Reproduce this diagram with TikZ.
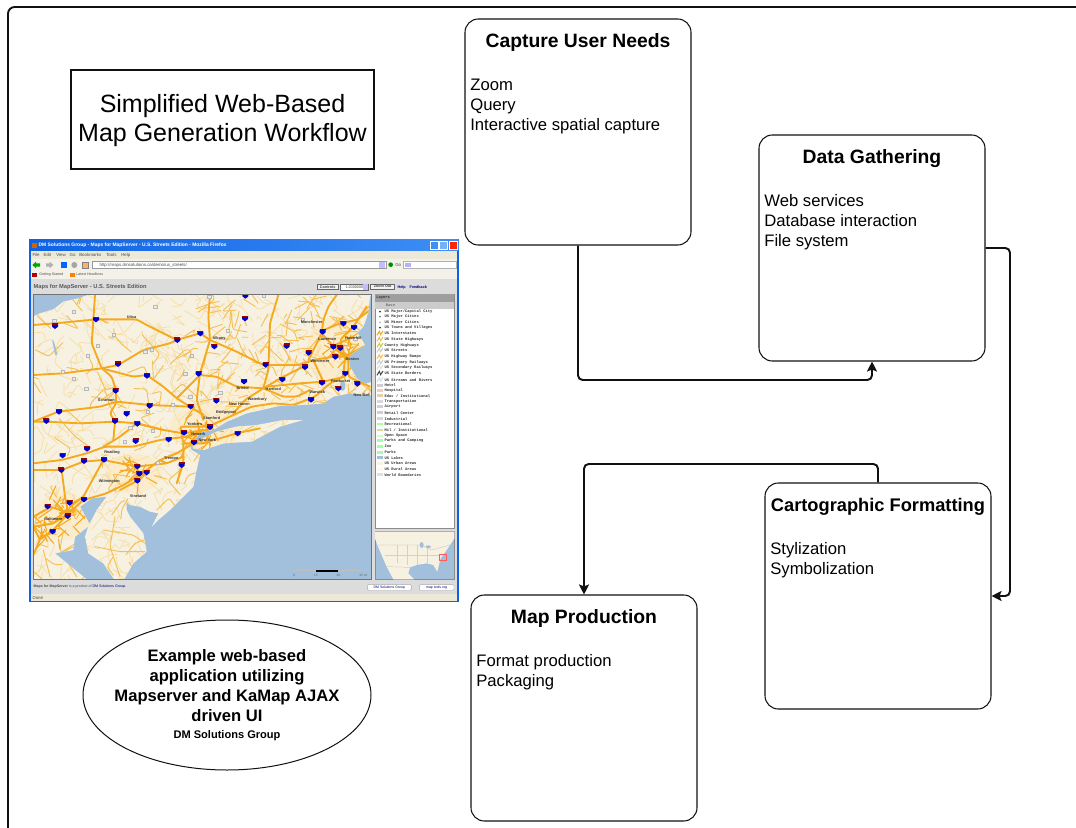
\documentclass[tikz,border=0pt]{standalone}
\usepackage{fontspec}
\setmainfont{Liberation Sans}
\newfontfamily\legfont{Liberation Mono}
\usetikzlibrary{shapes.geometric,arrows.meta}
\definecolor{linkdark}{HTML}{111111}
\definecolor{water}{HTML}{A2C0DC}
\definecolor{land}{HTML}{F7F1E2}
\definecolor{roadA}{HTML}{F5A91E}
\definecolor{roadB}{HTML}{F5C056}
\definecolor{roadC}{HTML}{F6DDA2}
\definecolor{xpbar}{HTML}{0F62E3}
\definecolor{xpbarb}{HTML}{3E8EF5}
\definecolor{xpface}{HTML}{ECE9D8}
\definecolor{pagegray}{HTML}{DCDCDC}
\newcommand{\flowtext}[3][14.5pt]{\parbox[c][169.5pt][t]{169.5pt}{\rule{0pt}{21pt}\centering\fontsize{#1}{16pt}\selectfont\bfseries #2\par\vspace{17.25pt}\raggedright\leftskip=4pt\fontsize{12.5pt}{15pt}\selectfont\mdseries #3\par}}
\tikzset{
  x=0.75pt,y=-0.75pt,
  flowbox/.style={draw=linkdark,line width=0.8pt,rounded corners=10pt,fill=white,inner sep=0pt,minimum width=169.5pt,minimum height=169.5pt},
  conn/.style={draw=linkdark,line width=1.45pt,rounded corners=3.5pt,-{Stealth[length=7.5pt,width=7.5pt,inset=1.5pt]}},
  tinylab/.style={inner sep=0pt,font=\fontsize{2.9pt}{3pt}\selectfont\bfseries,text=black!80},
  chrome/.style={inner sep=0pt,font=\fontsize{3.3pt}{3.6pt}\selectfont,text=black!70},
  leg/.style={inner sep=0pt,anchor=west,font=\fontsize{2.85pt}{3pt}\selectfont\legfont\bfseries,text=black!80},
  btn/.style={draw=black!60,line width=.35pt,fill=black!5,inner sep=0pt,font=\fontsize{2.8pt}{3pt}\selectfont\bfseries,text=black!75},
  rdA/.style={draw=roadA,line width=1.4pt,line join=round,line cap=round,rounded corners=2pt},
  rdB/.style={draw=roadB,line width=.7pt,line join=round,line cap=round,rounded corners=2pt},
  rdC/.style={draw=roadC,line width=.5pt,line join=round,line cap=round,rounded corners=1.5pt},
}
\begin{document}
\begin{tikzpicture}
\useasboundingbox (0,0) rectangle (1076,828);
\fill[white] (0,0) rectangle (1076,828);
% outer frame
\coordinate (frameA) at (8,829);
\coordinate (frameB) at (1077,7);
\draw[draw=linkdark,line width=1.4pt,rounded corners=5pt] (frameA) -- (8,7) -- (frameB);
% title
\node[draw=linkdark,line width=.9pt,fill=white,minimum width=227.25pt,minimum height=74.25pt,inner sep=0pt,align=center,font=\fontsize{18.75pt}{22pt}\selectfont] (title) at (222.5,119.5) {\rule{0pt}{15pt}Simplified Web-Based\\Map Generation Workflow};

% ============ screenshot, in units of a third of a pixel
\begin{scope}[shift={(20,230)},x=0.25pt,y=-0.25pt]
\fill[xpbar] (28,28) rectangle (1316,1117);
\shade[left color=xpbar,right color=xpbarb] (28,28) rectangle (1316,62);
\fill[pagegray] (32,62) rectangle (1312,1114);
\node[inner sep=0pt,anchor=west,text=white,font=\fontsize{3.7pt}{3.9pt}\selectfont\bfseries] (wintitle) at (55,47) {DM Solutions Group - Maps for MapServer - U.S. Streets Edition - Mozilla Firefox};
\fill[orange!80!black] (35,38) rectangle (50,54);
\fill[xpbarb,draw=white,line width=.3pt] (1232,35) rectangle (1255,58);
\fill[xpbarb!70,draw=white,line width=.3pt] (1259,35) rectangle (1282,58);
\fill[red!70!orange,draw=white,line width=.3pt] (1288,35) rectangle (1312,58);
\fill[xpface] (32,62) rectangle (1312,88);
\fill[xpface!60!white] (32,88) rectangle (1312,120);
\fill[xpface!60!white] (32,120) rectangle (1312,146);
\foreach \px/\lab [count=\i] in {37/File,70/Edit,108/View,148/Go,177/Bookmarks,258/Tools,303/Help}
  \node[chrome,anchor=west] (menu\i) at (\px,75) {\lab};
\fill[green!65!black] (37,105) -- (48,95) -- (48,100) -- (60,100) -- (60,110) -- (48,110) -- (48,115) -- cycle;
\fill[black!30] (100,105) -- (89,95) -- (89,100) -- (78,100) -- (78,110) -- (89,110) -- (89,115) -- cycle;
\fill[blue!60!cyan] (122,96) rectangle (140,114);
\fill[black!35] (163,105) circle (9);
\fill[orange!60!white,draw=black!50,line width=.2pt] (186,96) rectangle (205,114);
\fill[white,draw=black!40,line width=.25pt] (215,94) rectangle (1098,115);
\node[chrome,anchor=west] (url) at (238,105) {http://maps.dmsolutions.ca/demo/us\_streets/};
\fill[blue!25] (1078,96) rectangle (1096,113);
\fill[green!55!black] (1112,104) circle (7);
\node[chrome,anchor=west] (go) at (1125,105) {Go};
\fill[white,draw=black!30,line width=.25pt] (1150,94) rectangle (1308,115);
\fill[blue!30] (1155,98) rectangle (1172,112);
\fill[red!70!black] (37,128) rectangle (50,140);
\node[chrome,anchor=west,font=\fontsize{2.7pt}{3pt}\selectfont] (bm1) at (57,134) {Getting Started};
\fill[orange] (151,128) rectangle (164,140);
\node[chrome,anchor=west,font=\fontsize{2.7pt}{3pt}\selectfont] (bm2) at (168,134) {Latest Headlines};
\node[inner sep=0pt,anchor=west,text=black!65,font=\fontsize{4.3pt}{4.6pt}\selectfont\bfseries] (pagetitle) at (40,171) {Maps for MapServer - U.S. Streets Edition};
\node[btn,minimum width=15.5pt,minimum height=4.4pt] (bc) at (923,170) {Controls};
\node[btn,fill=white,minimum width=21pt,minimum height=4.4pt,anchor=center,font=\fontsize{2.8pt}{3pt}\selectfont] (bs) at (1003,171) {1:2000000\hspace{5pt}};
\fill[blue!25] (1030,163) rectangle (1044,179);
\node[btn,minimum width=18pt,minimum height=4.4pt] (bz) at (1088,170) {Zoom Out};
\node[chrome,text=blue!50!black,font=\fontsize{2.8pt}{3pt}\selectfont\bfseries] (help) at (1145,172) {Help};
\node[chrome,text=blue!50!black,font=\fontsize{2.8pt}{3pt}\selectfont\bfseries] (fb) at (1195,172) {Feedback};

% ---- map
\fill[water,draw=black!55,line width=.4pt] (40,193) rectangle (1053,1049);
\begin{scope}
\clip (40,193) rectangle (1053,1049);
\def\landA{(33,262) -- (60,250) -- (100,238) -- (130,215) -- (175,205) -- (212,192) -- (1056,192) -- (1050,200) -- (1045,250) -- (1030,290) -- (1012,308) -- (1035,345) -- (1005,365) -- (985,378) -- (990,410) -- (1010,445) -- (1035,462) -- (1056,455) -- (1056,497) -- (990,490) -- (940,500) -- (910,520) -- (840,525) -- (780,527) -- (680,550) -- (620,575) -- (580,600) -- (545,605) -- (525,625) -- (510,650) -- (515,660) -- (540,675) -- (530,720) -- (520,770) -- (480,810) -- (450,840) -- (415,870) -- (395,890) -- (415,850) -- (390,845) -- (360,830) -- (330,825) -- (320,815) -- (320,840) -- (330,860) -- (370,910) -- (380,965) -- (340,1000) -- (310,1052) -- (285,1052) -- (250,1000) -- (205,970) -- (195,920) -- (205,890) -- (230,840) -- (260,800) -- (215,805) -- (180,830) -- (210,885) -- (165,920) -- (160,960) -- (105,970) -- (205,1052) -- (33,1052) -- cycle}
\def\landB{(515,640) -- (560,620) -- (590,605) -- (650,590) -- (710,585) -- (790,570) -- (850,570) -- (780,590) -- (695,635) -- (610,640) -- (550,660) -- (520,655) -- cycle}
\fill[land] \landA;
\fill[land] \landB;
\begin{scope}
\clip \landA \landB;
% settled areas
\fill[roadC!55] (560,590) ellipse (110 and 70);
\fill[roadC!55] (950,360) ellipse (90 and 100);
\fill[roadC!55] (340,730) ellipse (85 and 60);
\fill[roadC!55] (130,860) ellipse (90 and 70);
\fill[roadC!45] (760,500) ellipse (150 and 50);
% minor roads
\pgfmathsetseed{73}
\foreach \n in {1,...,620}{
  \pgfmathsetmacro\xa{40+1010*rnd}
  \pgfmathsetmacro\ya{195+850*rnd}
  \pgfmathsetmacro\dxa{-45+90*rnd}
  \pgfmathsetmacro\dya{-45+90*rnd}
  \pgfmathsetmacro\dxb{-40+80*rnd}
  \pgfmathsetmacro\dyb{-40+80*rnd}
  \draw[rdC] (\xa,\ya) -- ++(\dxa,\dya) -- ++(\dxb,\dyb);
}
\foreach \n in {1,...,130}{
  \pgfmathsetmacro\xa{40+1010*rnd}
  \pgfmathsetmacro\ya{195+850*rnd}
  \pgfmathsetmacro\dxa{-60+120*rnd}
  \pgfmathsetmacro\dya{-60+120*rnd}
  \pgfmathsetmacro\dxb{-50+100*rnd}
  \pgfmathsetmacro\dyb{-50+100*rnd}
  \draw[rdB] (\xa,\ya) -- ++(\dxa,\dya) -- ++(\dxb,\dyb);
}
\foreach \n in {1,...,110}{
  \pgfmathsetmacro\xa{560+490*rnd}
  \pgfmathsetmacro\ya{200+330*rnd}
  \pgfmathsetmacro\dxa{-50+100*rnd}
  \pgfmathsetmacro\dya{-50+100*rnd}
  \draw[rdB] (\xa,\ya) -- ++(\dxa,\dya);
}
% dense urban road clusters
\foreach \cx/\cy/\cr in {535/615/48,960/360/38,130/850/42,350/730/34,90/900/30}{
  \foreach \n in {1,...,22}{
    \pgfmathsetmacro\xa{\cx+\cr*(2*rnd-1)}
    \pgfmathsetmacro\ya{\cy+\cr*(2*rnd-1)}
    \pgfmathsetmacro\dxa{\cr*(2*rnd-1)}
    \pgfmathsetmacro\dya{\cr*(2*rnd-1)}
    \draw[draw=roadA,line width=.8pt,line cap=round] (\xa,\ya) -- ++(\dxa,\dya);
  }
}
% Delmarva and south
\draw[rdB] (285,860) -- (270,950) -- (300,1040);
\draw[rdB] (250,900) -- (340,915) -- (375,940);
\draw[rdB] (225,950) -- (300,965) -- (375,965);
\draw[rdB] (70,960) -- (90,1040);
\draw[rdB] (130,900) -- (120,960) -- (170,1040);
% main roads
\draw[rdA] (40,285) -- (105,280) -- (230,268) -- (350,268) -- (380,285) -- (470,330) -- (540,310) -- (570,330) -- (650,365) -- (730,405) -- (840,405) -- (880,390) -- (940,380) -- (980,380);
\draw[rdA] (225,195) -- (220,270) -- (215,340) -- (245,415) -- (275,440) -- (288,480) -- (288,520) -- (270,550) -- (285,575) -- (280,630);
\draw[rdA] (40,435) -- (130,430) -- (245,415) -- (295,405) -- (370,360) -- (450,340) -- (470,330);
\draw[rdA] (245,415) -- (340,440) -- (380,435) -- (430,470) -- (470,505) -- (510,530) -- (550,555);
\draw[rdA] (40,575) -- (115,545) -- (240,530) -- (290,515) -- (390,525) -- (510,530);
\draw[rdA] (40,575) -- (80,575) -- (180,580) -- (285,575) -- (350,580) -- (430,600) -- (490,610) -- (550,600);
\draw[rdA] (570,195) -- (565,260) -- (570,330) -- (540,430) -- (530,510) -- (550,570);
\draw[rdA] (775,195) -- (750,280) -- (745,420) -- (730,475) -- (675,510) -- (640,550);
\draw[rdA] (565,590) -- (640,555) -- (695,530) -- (760,520) -- (820,525) -- (885,500) -- (930,460) -- (970,440) -- (975,380);
\draw[rdA] (730,475) -- (790,500) -- (830,500) -- (870,480);
\draw[rdA] (730,475) -- (790,440) -- (850,410);
\draw[rdA] (540,435) -- (590,440) -- (650,470) -- (730,475);
\draw[rdA] (540,435) -- (470,505);
\draw[rdA] (865,390) -- (905,310) -- (910,270) -- (925,230) -- (950,195);
\draw[rdA] (975,380) -- (960,330) -- (1000,290) -- (1040,230);
\draw[rdA] (900,305) -- (960,280) -- (1010,270) -- (1050,240);
\draw[rdA] (975,380) -- (1040,345);
\draw[rdA] (935,350) -- (1000,320);
\draw[rdA] (905,310) -- (950,360) -- (975,380);
\draw[rdA] (985,380) -- (985,440) -- (1050,470);
\draw[rdA] (975,440) -- (910,455) -- (840,460) -- (740,470);
\draw[rdA] (880,390) -- (910,455);
\draw[rdA] (545,640) -- (600,625) -- (650,610) -- (720,595);
\draw[rdA] (520,640) -- (470,670) -- (420,690) -- (380,720) -- (320,760) -- (260,790) -- (190,810) -- (145,850) -- (100,880) -- (40,890);
\draw[rdA] (40,700) -- (125,690) -- (200,670) -- (255,650) -- (340,650) -- (420,630) -- (500,620);
\draw[rdA] (40,720) -- (125,720) -- (190,695) -- (250,690) -- (350,710) -- (440,700) -- (490,680);
\draw[rdA] (250,690) -- (190,800) -- (150,830);
\draw[rdA] (125,720) -- (135,800) -- (145,850);
\draw[rdA] (40,860) -- (95,830) -- (145,850);
\draw[rdA] (352,709) -- (352,752) -- (300,780);
\draw[rdA] (145,850) -- (100,900) -- (60,930) -- (40,890);
\draw[rdA] (250,650) -- (300,620) -- (350,580) -- (430,600);
\draw[rdA] (440,700) -- (420,690);
\draw[rdA] (490,640) -- (490,700) -- (470,760);
\draw[rdA] (40,975) -- (70,905);
\draw[rdA] (480,590) -- (565,590) -- (560,640) -- (490,640) -- cycle;
\draw[rdA] (510,600) -- (545,635);
\draw[rdA] (540,600) -- (510,640);
\draw[rdA,line width=2pt] (500,620) -- (560,600);
\draw[rdA,line width=2pt] (120,850) -- (160,840);
\draw[rdA,line width=1.8pt] (950,360) -- (990,385);
\end{scope}
% route markers
\foreach \mx/\my in {160/245, 102/270, 280/312, 232/345, 395/357, 160/445, 198/476, 405/230, 567/198, 622/302, 515/375, 495/430, 510/498, 457/522, 375/365, 202/377, 128/424, 330/592, 397/601, 313/635, 412/698, 382/545, 600/487, 730/197, 848/267, 1005/325}
  \fill[white!92!black,draw=black!28,line width=.2pt] (\mx-5,\my-4) rectangle (\mx+5,\my+5);
% lakes
\fill[water] (96,330) -- (102,335) -- (112,372) -- (106,376) -- cycle;
\fill[water] (968,468) ellipse (8 and 15);
% interstate shields
\foreach \sx/\sy in {228/268,105/288,472/330,541/310,675/265,676/197,583/349,294/402,381/437,536/431,287/482,389/527,512/529,589/512,672/454,737/404,800/348,866/368,908/305,970/280,1002/292,940/350,961/354,946/380,855/411,787/448,976/430,906/458,955/475,1012/461,873/509,117/545,79/573,320/551,285/573,352/581,492/608,570/591,653/610,446/628,347/633,522/637,201/656,128/676,192/693,252/689,124/720,352/709,380/727,358/731,352/752,485/705,149/818,192/808,83/829,143/858,98/904}{
  \fill[blue!80!black] (\sx-9,\sy-6) -- (\sx+9,\sy-6) -- (\sx+9,\sy+2) -- (\sx,\sy+9) -- (\sx-9,\sy+2) -- cycle;
  \fill[red!60!black] (\sx-9,\sy-8) rectangle (\sx+9,\sy-4);
}
% place names
\foreach \nx/\ny/\lab [count=\i] in {259/511/Scranton,335/261/Utica,597/325/Albany,875/276/Manchester,922/327/Lawrence,1000/325/Haverhill,900/394/Worcester,997/388/Boston,962/452/Pawtucket,892/486/Warwick,760/477/Hartford,668/473/Bristol,712/507/Waterbury,658/524/New Haven,618/547/Bridgeport,575/565/Stamford,524/582/Yonkers,535/612/Newark,562/631/New York,276/669/Reading,268/756/Wilmington,354/797/Vineland,454/686/Trenton,100/868/Baltimore,1025/496/New Bed}
  \node[tinylab] (place\i) at (\nx,\ny) {\lab};
\end{scope}
\draw[black!55,line width=.4pt] (40,193) rectangle (1053,1049);
% scale bar
\fill[black!25] (820,1019) rectangle (1022,1024);
\fill[black] (888,1019) rectangle (955,1025);
\foreach \sbx/\lab [count=\i] in {822/0,888/15,955/30,1030/45 mi}
  \node[tinylab,font=\fontsize{2.4pt}{3pt}\selectfont,text=black!60] (scale\i) at (\sbx,1035) {\lab};

% ---- layers panel
\fill[white,draw=black!45,line width=.4pt] (1065,193) rectangle (1303,895);
\fill[black!38] (1065,193) rectangle (1303,215);
\fill[black!20] (1065,215) rectangle (1303,236);
\node[leg,text=black!80] (laytitle) at (1068,204) {Layers};
\node[leg,text=black!55] (laybase) at (1097,225) {Base};
\foreach \ly/\lab/\lc [count=\i] in {
 245/{US Major/Capital City}/black!80,
 260/US Major Cities/black!50,
 277/US Minor Cities/black!30,
 293/US Towns and Villages/black!80,
 310/US Interstates/roadA,
 328/US State Highways/roadB,
 346/County Highways/roadB!80!green,
 361/US Streets/black!20,
 380/US Highway Ramps/roadB,
 397/US Primary Railways/black!20,
 412/US Secondary Railways/black!12,
 430/US State Borders/black!70,
 449/US Streams and Rivers/water!50,
 466/Hotel/violet!25!black!20,
 481/Hospital/brown!35!white,
 497/{Educ / Institutional}/brown!40!white,
 514/Transportation/black!15,
 530/Airport/black!18,
 548/Retail Center/violet!30!black!20,
 566/Industrial/cyan!20!black!20,
 582/Recreational/green!35!white,
 600/{Mil / Institutional}/olive!30!white,
 618/Open Space/green!20!white,
 632/Parks and Camping/green!35!white,
 650/Zoo/green!35!white,
 667/Parks/green!35!white,
 683/US Lakes/water,
 700/US Urban Areas/orange!12!white,
 718/US Rural Areas/orange!6!white,
 734/World Boundaries/black!12}{
  \node[leg] (layer\i) at (1093,\ly) {\lab};
  \ifnum\i<5
    \fill[\lc] (1080,\ly) circle (3);
  \else\ifnum\i<14
    \draw[\lc,line width=.8pt] (1071,\ly+6) -- (1078,\ly-6) -- (1082,\ly+4) -- (1089,\ly-7);
  \else
    \fill[\lc] (1071,\ly-4) rectangle (1089,\ly+4);
  \fi\fi
}
% ---- overview
\fill[water,draw=black!45,line width=.4pt] (1065,905) rectangle (1303,1048);
\begin{scope}
\clip (1065,905) rectangle (1303,1048);
\fill[land] (1065,905) -- (1303,905) -- (1303,925) -- (1290,945) -- (1280,960) -- (1262,985) -- (1258,1000) -- (1252,1025) -- (1240,1005) -- (1220,1000) -- (1190,1005) -- (1170,1012) -- (1165,1030) -- (1182,1048) -- (1120,1048) -- (1100,1010) -- (1085,975) -- (1072,945) -- (1065,925) -- cycle;
\draw[black!30,line width=.15pt] (1070,945) -- (1205,945) -- (1235,960) -- (1290,945);
\draw[black!18,line width=.1pt] (1130,945) -- (1130,1000) (1160,945) -- (1160,1005) (1190,945) -- (1190,1005) (1220,950) -- (1220,1000) (1095,975) -- (1260,975);
\fill[water] (1205,945) ellipse (6 and 9);
\fill[water] (1225,950) ellipse (8 and 4);
\draw[black!30,line width=.15pt] (1100,1010) -- (1170,1012);
\end{scope}
\draw[red!65!white,line width=.35pt] (1258,972) rectangle (1280,992);
% ---- footer
\node[inner sep=0pt,anchor=west,text=black!70,font=\fontsize{2.7pt}{3pt}\selectfont] (foot) at (40,1070) {\textbf{Maps for MapServer} is a product of \textcolor{blue!45!black}{DM Solutions Group.}};
\node[draw=black!35,line width=.25pt,rounded corners=1pt,fill=white,inner sep=0pt,minimum width=33pt,minimum height=4.4pt,font=\fontsize{2.6pt}{3pt}\selectfont,text=blue!50!black] (logoa) at (1108,1072) {DM Solutions Group};
\node[draw=black!35,line width=.25pt,rounded corners=1pt,fill=white,inner sep=0pt,minimum width=26pt,minimum height=4.4pt,font=\fontsize{2.6pt}{3pt}\selectfont,text=blue!50!black] (logob) at (1250,1072) {map tools org};
\fill[xpface] (32,1092) rectangle (1312,1114);
\node[chrome,anchor=west] (done) at (37,1103) {Done};
\end{scope}

% flow boxes
\node[flowbox] (cap) at (578,132) {\flowtext{Capture User Needs}{Zoom\\Query\\Interactive spatial capture}};
\node[flowbox] (data) at (872,248) {\flowtext{Data Gathering}{Web services\\Database interaction\\File system}};
\node[flowbox] (carto) at (878,596) {\flowtext[13.7pt]{Cartographic Formatting}{Stylization\\Symbolization}};
\node[flowbox] (prod) at (584,708) {\flowtext{Map Production}{Format production\\Packaging}};
% connectors
\draw[conn] (cap.south) -- (cap.south |- 0,380) -- (data.south |- 0,380) -- (data.south);
\draw[conn] (data.east) -- (1010,248) -- (1010,596) -- (carto.east);
\draw[conn] (carto.north) -- (carto.north |- 0,464) -- (prod.north |- 0,464) -- (prod.north);
% ellipse
\node[ellipse,draw=linkdark,line width=.75pt,fill=white,inner sep=0pt,minimum width=216pt,minimum height=112.5pt] (note) at (227,695) {\makebox[100pt][c]{\parbox{220pt}{\centering\fontsize{12.45pt}{15pt}\selectfont\bfseries Example web-based\\application utilizing\\Mapserver and KaMap AJAX\\driven UI\\[-2.6pt]{\fontsize{8.3pt}{9pt}\selectfont DM Solutions Group}}}};
\end{tikzpicture}
\end{document}
